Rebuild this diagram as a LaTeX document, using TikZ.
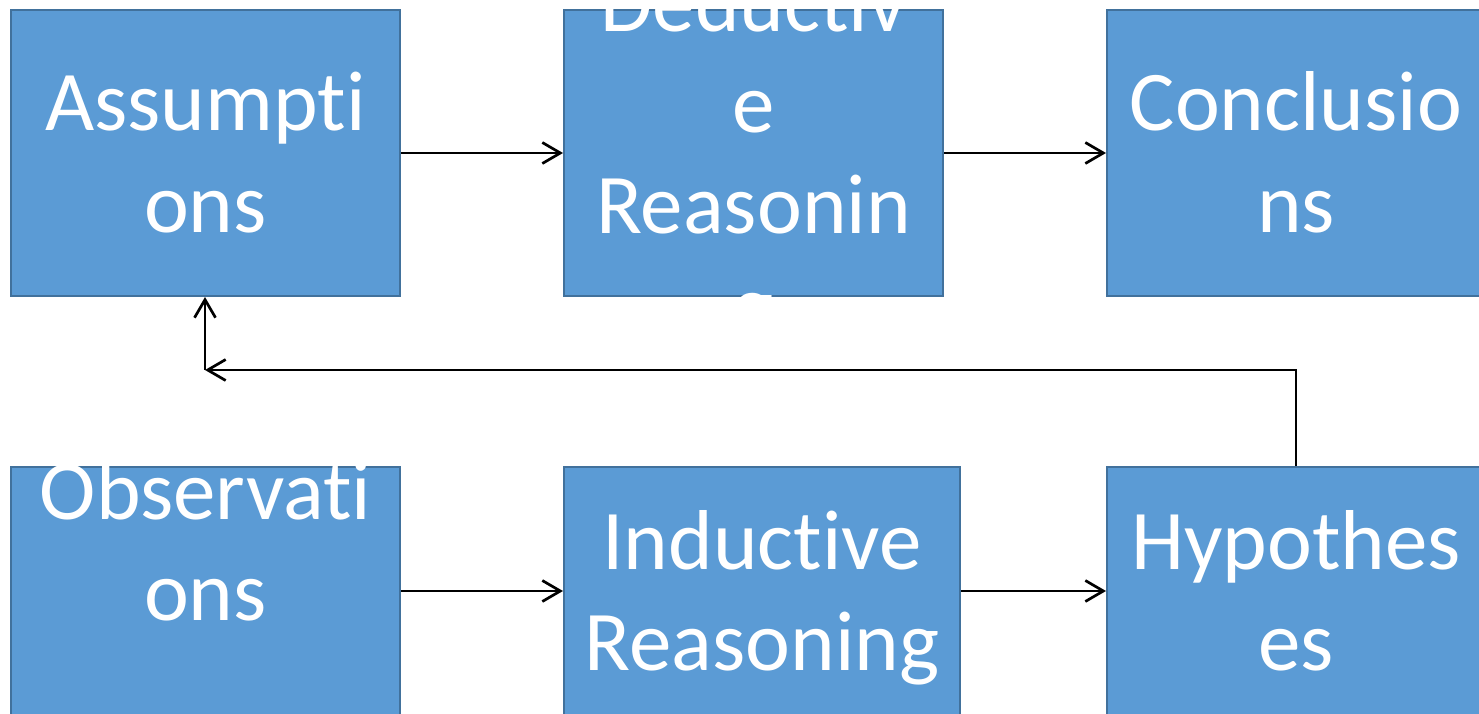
\documentclass[tikz,border=0pt]{standalone}
\usepackage{fontspec}
\setmainfont{Carlito}[Ligatures=NoCommon]
\usetikzlibrary{arrows.meta}
\definecolor{boxfill}{RGB}{91,155,213}
\definecolor{boxline}{RGB}{65,113,156}
\tikzset{
	stage/.style={draw=boxline, line width=2pt, fill=boxfill, inner xsep=0pt,
		text=white, align=center, font=\fontsize{85}{101}\selectfont,
		text depth=0pt},
	toprow/.style={minimum height=286pt, text height=158pt, inner ysep=-79pt},
	lowrow/.style={minimum height=248pt, text height=158pt, inner ysep=-79pt},
	flow/.style={line width=2.7pt, -{Straight Barb[length=18pt,width=21pt]}}
}

\begin{document}
\begin{tikzpicture}[x=1pt,y=-1pt]
	\useasboundingbox (0,0) rectangle (1479,714);
	\clip (0,0) rectangle (1479,714);
		% deductive chain
		\node[stage,toprow,minimum width=389pt] (assum) at (205.5,153) {Assumpti\\ons};
		\node[stage,toprow,minimum width=379pt,text height=362pt,inner ysep=-181pt] (deduc) at (753.5,153) {Deductiv\\e\\Reasonin\\g};
		\node[stage,toprow,minimum width=378pt] (concl) at (1296,153) {Conclusio\\ns};
		% inductive chain
		\node[stage,lowrow,minimum width=389pt,text height=58pt,inner ysep=-29pt] (obser) at (205.5,591) {Observati\\ons};
		\node[stage,lowrow,minimum width=396pt] (induc) at (762,591) {Inductive\\Reasoning};
		\node[stage,lowrow,minimum width=378pt] (hypot) at (1296,591) {Hypothes\\es};
		\coordinate (turn) at (205,370);
			\draw[flow] (assum) -- (deduc);
			\draw[flow] (deduc) -- (concl);
			\draw[flow] (obser) -- (induc);
			\draw[flow] (induc) -- (hypot);
			\draw[flow] (hypot.north) |- (turn);
			\draw[flow] (turn) -- (assum.south -| turn);
\end{tikzpicture}
\end{document}
